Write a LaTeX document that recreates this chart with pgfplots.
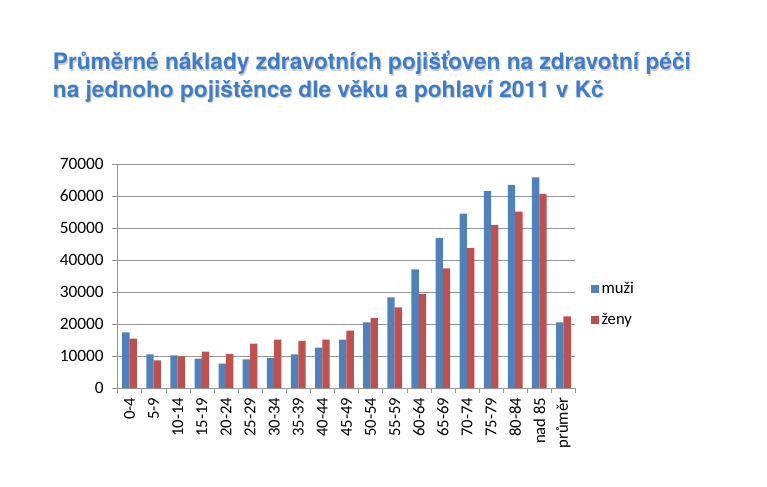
\documentclass[border=0pt]{standalone}
\usepackage{pgfplots}
\pgfplotsset{compat=1.18}
\usepackage{fontspec}
\setmainfont{Carlito}
\newfontfamily\titlefont{TeX Gyre Heros}
\definecolor{muzi}{RGB}{79,129,189}
\definecolor{zeny}{RGB}{192,80,77}
\definecolor{titleblue}{RGB}{62,124,200}
\definecolor{gridgray}{RGB}{150,150,150}

\pgfplotstableread{
x muzi zeny
0 17400 15400
1 10500 8650
2 10200 9900
3 9170 11350
4 7600 10700
5 8960 13850
6 9400 15100
7 10500 14700
8 12600 15100
9 15100 17900
10 20500 21900
11 28300 25200
12 37100 29300
13 46900 37400
14 54500 43750
15 61500 50900
16 63500 55100
17 65800 60700
18 20500 22400
}\datatable

\begin{document}
\begin{tikzpicture}
\useasboundingbox (0,0) rectangle (575.25pt,364.5pt);
\begin{scope}[every node/.style={anchor=base west, inner sep=0pt, font=\titlefont\bfseries\fontsize{17}{20}\selectfont}]
\node[text=black!20] at (40.3pt,311.1pt) {Průměrné náklady zdravotních pojišťoven na zdravotní péči};
\node[text=black!20] at (40.3pt,290.6pt) {na jednoho pojištěnce dle věku a pohlaví 2011 v Kč};
\node[text=titleblue] at (39.5pt,312pt) {Průměrné náklady zdravotních pojišťoven na zdravotní péči};
\node[text=titleblue] at (39.5pt,291.5pt) {na jednoho pojištěnce dle věku a pohlaví 2011 v Kč};
\end{scope}
\begin{axis}[
  at={(88.1pt,73.5pt)}, anchor=south west,
  scale only axis, width=343.5pt, height=168pt,
  ybar=0pt, bar width=5.5pt,
  xmin=-0.5, xmax=18.5, ymin=0, ymax=70000,
  axis x line*=bottom, axis y line*=left,
  axis line style={gridgray},
  tick align=outside,
  xtick={0,...,18},
  xticklabels={0-4,5-9,10-14,15-19,20-24,25-29,30-34,35-39,40-44,45-49,50-54,55-59,60-64,65-69,70-74,75-79,80-84,nad 85,průměr},
  x tick label style={rotate=90, anchor=east, font=\fontsize{12.5}{14}\selectfont},
  major x tick style={draw=none},
  minor xtick={-0.5,0.5,...,18.5},
  minor x tick style={gridgray},
  minor tick length=3.75pt,
  ytick={0,10000,...,70000},
  major tick length=3.75pt,
  y tick style={gridgray},
  y tick label style={font=\fontsize{13}{15}\selectfont, xshift=-3pt},
  yticklabel style={/pgf/number format/.cd, set thousands separator={}, assume math mode=true},
  scaled y ticks=false,
  ymajorgrids,
  grid style={gridgray, line width=0.6pt},
  legend style={at={(1.033,0.373)}, anchor=west, draw=none, fill=none,
    font=\fontsize{12.5}{14}\selectfont, row sep=9pt, inner sep=0pt},
  legend cell align=left,
  legend image code/.code={\fill[#1] (0pt,-3pt) rectangle (6pt,3pt);},
]
\addplot[fill=muzi, draw=none] table[x=x, y=muzi] {\datatable};
\addplot[fill=zeny, draw=none] table[x=x, y=zeny] {\datatable};
\legend{muži, ženy}
\end{axis}
\end{tikzpicture}
\end{document}
